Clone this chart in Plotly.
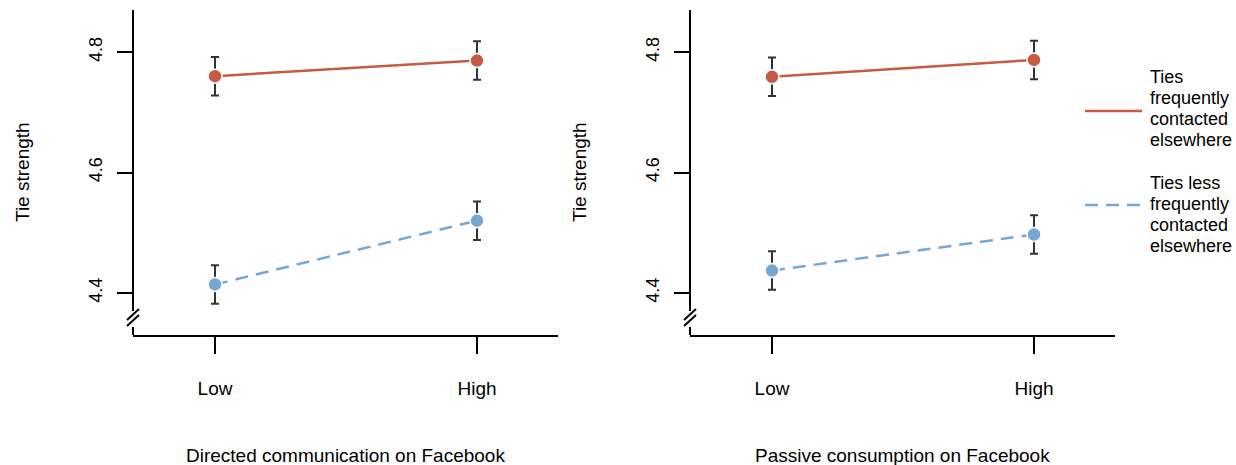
import plotly.graph_objects as go

# ---- data ----
levels = ["Low", "High"]
x_pos = [0, 1]

dir_freq = [4.760, 4.786]
dir_freq_err = [0.032, 0.032]
dir_less = [4.414, 4.520]
dir_less_err = [0.032, 0.032]

pas_freq = [4.759, 4.787]
pas_freq_err = [0.032, 0.032]
pas_less = [4.437, 4.497]
pas_less_err = [0.032, 0.032]

series_names = [["Ties", "frequently", "contacted", "elsewhere"],
                ["Ties less", "frequently", "contacted", "elsewhere"]]
panel_titles = ["Directed communication on Facebook", "Passive consumption on Facebook"]
y_ticks = [4.4, 4.6, 4.8]

RED = "#C65A42"
BLUE = "#78A6D3"
FONT = "Liberation Sans, Arial, Helvetica, sans-serif"
W, H = 1236, 465


def px(x):
    return x / W


def py(y):
    return 1 - y / H


fig = go.Figure()


def add_pair(freq, ferr, less, lerr, xa, ya):
    fig.add_trace(go.Scatter(
        x=x_pos, y=less, xaxis=xa, yaxis=ya, mode="lines+markers",
        line=dict(color=BLUE, width=2.5, dash="13px,8px"),
        marker=dict(size=14, color=BLUE, line=dict(color="white", width=1.5)),
        error_y=dict(type="data", array=lerr, color="#333333", thickness=2, width=4),
        showlegend=False, cliponaxis=False))
    fig.add_trace(go.Scatter(
        x=x_pos, y=freq, xaxis=xa, yaxis=ya, mode="lines+markers",
        line=dict(color=RED, width=2.5),
        marker=dict(size=14, color=RED, line=dict(color="white", width=1.5)),
        error_y=dict(type="data", array=ferr, color="#333333", thickness=2, width=4),
        showlegend=False, cliponaxis=False))


add_pair(dir_freq, dir_freq_err, dir_less, dir_less_err, "x", "y")
add_pair(pas_freq, pas_freq_err, pas_less, pas_less_err, "x2", "y2")

left_px = [133, 690]
right_px = [558, 1115]
top_px, bot_px = 10, 335

# Axis geometry: 600 px per unit on y, 4.4 at y=293
y_range = [4.4 - (bot_px - 293) / 600, 4.8 + (52 - top_px) / 600]
x_range = [-82 / 262, 1 + 81 / 262]

xaxis_common = dict(range=x_range, tickvals=x_pos, ticktext=levels, showline=True,
                    linecolor="black", linewidth=2, ticks="outside", ticklen=17,
                    tickwidth=2, tickcolor="black", showgrid=False, zeroline=False,
                    tickfont=dict(family=FONT, size=19, color="black"),
                    ticklabelstandoff=18, fixedrange=True)
yaxis_common = dict(range=y_range, tickvals=y_ticks, ticktext=["4.4", "4.6", "4.8"],
                    showline=False, ticks="outside", ticklen=15, tickwidth=2,
                    tickcolor="black", showgrid=False, zeroline=False, tickangle=-90,
                    tickfont=dict(family=FONT, size=18, color="black"),
                    ticklabelstandoff=8, fixedrange=True,
                    domain=[py(bot_px), py(top_px)])

fig.update_layout(
    width=W, height=H, margin=dict(l=0, r=0, t=0, b=0),
    plot_bgcolor="white", paper_bgcolor="white",
    xaxis=dict(domain=[px(left_px[0]), px(right_px[0])], anchor="y", **xaxis_common),
    yaxis=dict(anchor="x", **yaxis_common),
    xaxis2=dict(domain=[px(left_px[1]), px(right_px[1])], anchor="y2", **xaxis_common),
    yaxis2=dict(anchor="x2", **yaxis_common),
    font=dict(family=FONT, color="black"),
)

shapes = []
annotations = []
for i in range(2):
    xl = px(left_px[i])
    # y axis line with break
    shapes.append(dict(type="line", xref="paper", yref="paper", x0=xl, x1=xl,
                       y0=py(top_px), y1=py(311), line=dict(color="black", width=2)))
    shapes.append(dict(type="line", xref="paper", yref="paper", x0=xl, x1=xl,
                       y0=py(327), y1=py(bot_px), line=dict(color="black", width=2)))
    for off in (0, 6):
        shapes.append(dict(type="line", xref="paper", yref="paper",
                           x0=px(left_px[i] - 6), x1=px(left_px[i] + 6),
                           y0=py(320 + off), y1=py(309 + off),
                           line=dict(color="black", width=2)))
    # titles
    annotations.append(dict(text=panel_titles[i], xref="paper", yref="paper",
                            x=(px(left_px[i]) + px(right_px[i])) / 2, y=py(455),
                            xanchor="center", yanchor="middle", showarrow=False,
                            font=dict(family=FONT, size=19, color="black")))
    annotations.append(dict(text="Tie strength", xref="paper", yref="paper",
                            x=px(left_px[i] - 111), y=py(172), textangle=-90,
                            xanchor="center", yanchor="middle", showarrow=False,
                            font=dict(family=FONT, size=19, color="black")))

# legend
leg_line_y = [111, 205]
leg_text_y0 = [77, 183]
leg_styles = [dict(color=RED, width=2.5), dict(color=BLUE, width=2.5, dash="13px,8px")]
for lines, yy, ty, st in zip(series_names, leg_line_y, leg_text_y0, leg_styles):
    shapes.append(dict(type="line", xref="paper", yref="paper", x0=px(1085), x1=px(1142),
                       y0=py(yy), y1=py(yy), line=st))
    for k, txt in enumerate(lines):
        annotations.append(dict(text=txt, xref="paper", yref="paper", x=px(1148),
                                y=py(ty + 21 * k), xanchor="left", yanchor="middle",
                                align="left", showarrow=False,
                                font=dict(family=FONT, size=18, color="black")))

fig.update_layout(shapes=shapes, annotations=annotations)
fig.write_html("out.html")
